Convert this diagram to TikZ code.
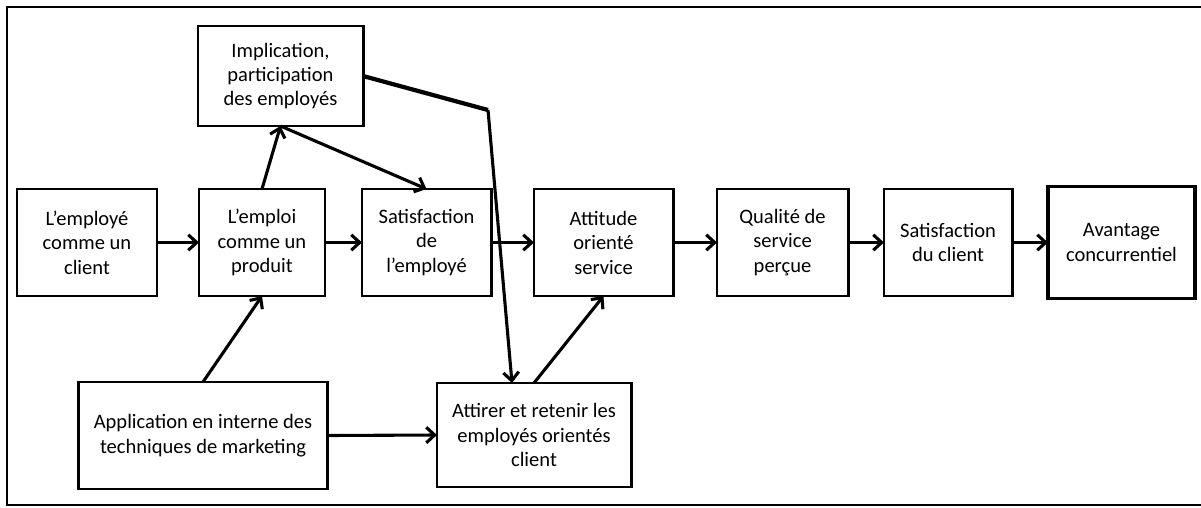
\documentclass[tikz,border=0pt]{standalone}
\usepackage{fontspec}
\setmainfont{Carlito}
\usetikzlibrary{arrows.meta}
\tikzset{
  bloc/.style 2 args={draw,line width=2.1pt,minimum width=#1,minimum height=#2,
    align=center,inner sep=2pt,outer sep=0pt,font=\fontsize{14.6}{17.4}\selectfont},
  fleche/.style={line width=2.2pt,-{Straight Barb[length=6pt,width=11pt,line width=2.2pt]}},
}
\begin{document}
\begin{tikzpicture}[x=0.025cm,y=-0.025cm]
\useasboundingbox (0,0) rectangle (1201,507);
% cadre
\draw[line width=2.1pt] (1201,7) -- (7,7) -- (7,505) -- (1201,505);
% ligne du milieu
\node[bloc={3.5cm}{2.675cm}] (client) at (87,242.5) {L'employé\\comme un\\client};
\node[bloc={3.15cm}{2.675cm}] (produit) at (262,242.5) {L'emploi\\comme un\\produit};
\node[bloc={3.225cm}{2.675cm}] (satemp) at (426.5,242.5) {Satisfaction\\de\\l'employé};
\node[bloc={3.475cm}{2.675cm}] (attitude) at (603.5,242.5) {Attitude\\orienté\\service};
\node[bloc={3.275cm}{2.675cm}] (qualite) at (782.5,242.5) {Qualité de\\service\\perçue};
\node[bloc={3.2cm}{2.675cm}] (satcli) at (948,242.5) {Satisfaction\\du client};
\node[bloc={3.675cm}{2.8cm},line width=2.7pt] (avantage) at (1121.5,242.5) {Avantage\\concurrentiel};
% haut et bas
\node[bloc={4.125cm}{2.5cm}] (implic) at (280.5,76) {Implication,\\participation\\des employés};
\node[bloc={6.2cm}{2.675cm}] (marketing) at (203,435.5) {Application en interne des\\techniques de marketing};
\node[bloc={4.85cm}{2.6cm}] (attirer) at (534,435) {Attirer et retenir les\\employés orientés\\client};
\coordinate (coude) at (488,110);
\coordinate (entree) at (512,383);

\foreach \a/\b in {client/produit,produit/satemp,satemp/attitude,attitude/qualite,qualite/satcli,satcli/avantage}{%
    \draw[fleche] (\a.east) -- (\a.east -| \b.west);
}
\draw[fleche] (produit.north) -- (implic.south);
\draw[fleche] (implic.south) -- (satemp.north);
\draw[line width=3pt] (implic.east) -- (coude);
\draw[fleche] (coude) -- (entree);
\draw[fleche] (marketing.north) -- (produit.south);
\draw[fleche] (marketing.east) -- (attirer.west);
\draw[fleche] (attirer.north) -- (attitude.south);
\end{tikzpicture}
\end{document}
